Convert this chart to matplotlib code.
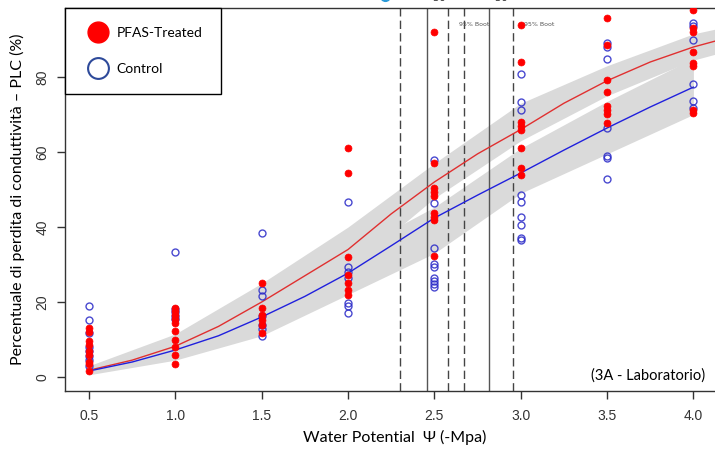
import matplotlib.pyplot as plt
from matplotlib.lines import Line2D

# ---- data ----
levels = [0.5, 1.0, 1.5, 2.0, 2.5, 3.0, 3.5, 4.0]

pfas_plc = [
    [13, 12, 9.5, 8.5, 7, 6, 4, 3.5, 1.5],
    [18.5, 17.5, 16.5, 15.5, 14.5, 12.3, 10, 8, 6, 3.5],
    [25, 18.5, 16.5, 15.2, 13.8, 11.7],
    [61, 54.5, 32, 27.2, 25.2, 23.2, 22],
    [92, 57.2, 50.4, 49.3, 48.3, 43.7, 42.7, 41.9, 32.3],
    [94, 84, 68, 67, 66, 61, 55.7, 54],
    [95.7, 88.5, 79.2, 76, 72.3, 71.2, 70.1, 67.7],
    [98, 93, 92, 86.7, 83.7, 83, 71.2, 70.4],
]
control_plc = [
    [18.9, 15.2, 11.7, 8, 7, 5.5, 4.5, 3],
    [33.3, 18.2, 17.3, 16.2, 15.5],
    [38.3, 23.2, 21.6, 16.2, 14, 12.8, 11],
    [46.8, 29.3, 28, 26.5, 19.7, 18.9, 17.1],
    [57.9, 46.4, 34.4, 30.1, 29.3, 26.4, 25.6, 24.8, 24],
    [80.8, 73.3, 71.2, 48.5, 46.7, 42.7, 40.5, 37.1, 36.5],
    [89.1, 88, 84.8, 66.4, 58.9, 58.4, 52.8],
    [94.4, 93.6, 90, 78.1, 73.6, 71.7],
]

# fitted curves
fit_x = [0.5, 0.75, 1.0, 1.25, 1.5, 1.75, 2.0, 2.25, 2.5, 2.75, 3.0, 3.25, 3.5, 3.75, 4.0, 4.2]
fit_pfas = [1.8, 4.5, 8.2, 13.5, 20, 27, 34, 43.5, 52, 59.5, 66, 73, 79, 84, 88, 90.5]
fit_control = [1.6, 4, 7.2, 11, 16, 21.5, 27.7, 35, 42.4, 48.5, 54.4, 60.5, 66.4, 72, 77.3]

# bootstrap bands
band_x_pfas = [0.5, 1.0, 1.5, 2.0, 2.5, 3.0, 3.5, 4.0, 4.2]
pfas_lo = [0.8, 5.5, 15, 28.5, 47.7, 63, 75, 84.5, 87]
pfas_hi = [3, 11.5, 25, 40, 57, 73, 83, 91.5, 93.5]
band_x_control = [0.5, 1.0, 1.5, 2.0, 2.5, 3.0, 3.5, 4.0]
control_lo = [0.6, 4.5, 11, 22, 33, 49, 59.5, 70]
control_hi = [2.6, 10, 21, 33, 45.3, 61, 73.5, 85]

# P50 and 95% bootstrap CI
p50_pfas, ci_pfas = 2.457, (2.30, 2.579)
p50_control, ci_control = 2.816, (2.671, 2.955)

# ---- figure ----
fig = plt.figure(figsize=(7.15, 4.5), dpi=100)
ax = fig.add_axes([65 / 715, 59 / 450, 660 / 715, 383 / 450])
ax.set_xlim(0.361, 4.183)
ax.set_ylim(-3.73, 98.4)

grey = '#dadada'
ax.fill_between(band_x_pfas, pfas_lo, pfas_hi, color=grey, lw=0, zorder=1)
ax.fill_between(band_x_control, control_lo, control_hi, color=grey, lw=0, zorder=1)

for xv in ci_pfas + ci_control:
    ax.axvline(xv, color='#444444', lw=1, ls=(0, (6, 3)), zorder=2)
for xv in (p50_pfas, p50_control):
    ax.axvline(xv, color='#555555', lw=1, zorder=2)

ax.plot(fit_x, fit_pfas, color='#e03030', lw=1, zorder=3)
ax.plot(fit_x[:len(fit_control)], fit_control, color='#2020dd', lw=1, zorder=3)

for xv, ys in zip(levels, control_plc):
    ax.plot([xv] * len(ys), ys, 'o', ms=5, mfc='none', mec='#2a2ac8',
            mew=1, alpha=0.85, zorder=4)
for xv, ys in zip(levels, pfas_plc):
    ax.plot([xv] * len(ys), ys, 'o', ms=5, mfc='#ff0000', mec='#ff0000',
            mew=0.5, zorder=5)

# labels above the plot box (cut at the top edge, as in the source)
for xv in (p50_pfas, p50_control):
    ax.text(xv - 0.02, 99.5, r'$P_{50}$', fontsize=11, color='#333333',
            ha='left', va='bottom', clip_on=False)
ax.plot([2.214], [101.5], 'o', ms=7, color='#2a9ad8', clip_on=False)
ax.text(2.645, 93.9, '95% Boot', fontsize=4.5, color='#555555', va='center')
ax.text(3.02, 93.9, '95% Boot', fontsize=4.5, color='#555555', va='center')

ax.text(4.07, 0.3, '(3A - Laboratorio)', fontsize=10.5, family='Lato',
        ha='right', va='center')

# axes style (R base graphics)
for side in ax.spines.values():
    side.set_color('#333333')
    side.set_linewidth(1)
ax.set_xticks(levels)
ax.set_xticklabels(['%.1f' % v for v in levels], family='Liberation Sans',
                   fontsize=10, color='#333333')
ax.set_yticks([0, 20, 40, 60, 80])
ax.set_yticklabels(['0', '20', '40', '60', '80'], family='Liberation Sans',
                   fontsize=10, color='#333333', rotation=90, va='center')
ax.tick_params(direction='out', length=6, width=1, color='#333333', pad=5)
ax.tick_params(axis='x', pad=7)

ax.set_xlabel('Water Potential  Ψ (-Mpa)', family='Lato', fontsize=11.5, labelpad=5)
ax.set_ylabel('Percentuale di perdita di conduttività – PLC (%)', family='Lato',
              fontsize=11.5, labelpad=8)

handles = [
    Line2D([], [], ls='none', marker='o', ms=15, mfc='#ff0000', mec='#ff0000'),
    Line2D([], [], ls='none', marker='o', ms=15, mfc='none', mec='#2e4a9a', mew=1.5),
]
leg = ax.legend(handles, ['PFAS-Treated', 'Control'], loc='upper left',
                bbox_to_anchor=(0, 1), borderaxespad=0, fancybox=False,
                framealpha=1, edgecolor='black', prop={'family': 'Lato', 'size': 10},
                borderpad=1.35, labelspacing=1.75, handletextpad=0.35,
                handlelength=2.0)
leg.get_frame().set_linewidth(1)
leg.set_zorder(10)

fig.savefig('out.png', dpi=100)
